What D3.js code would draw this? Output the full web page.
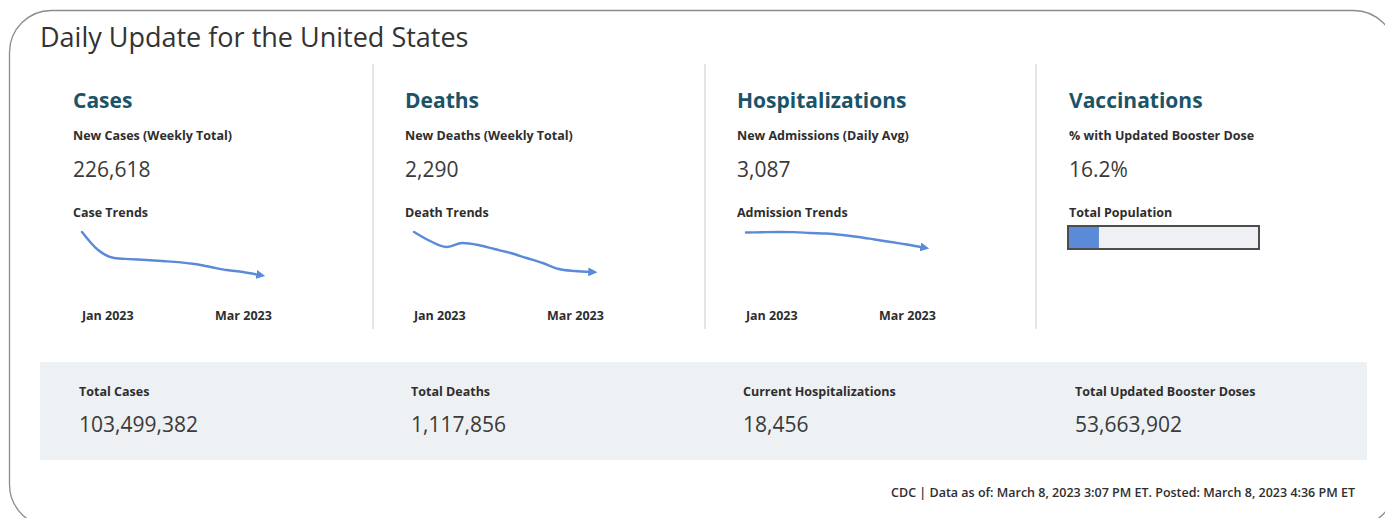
<!DOCTYPE html>
<html>
<head>
<meta charset="utf-8">
<script src="https://cdn.jsdelivr.net/npm/d3@7"></script>
<style>
   body { margin: 0; background: #fff; }
   svg { display: block; font-family: 'Open Sans', sans-serif; }
</style>
</head>
<body>
<div id="chart"></div>
<script>

// PANEL TEXTS
var panelTitles = ['Cases', 'Deaths', 'Hospitalizations', 'Vaccinations'];
var panelLabels = ['New Cases (Weekly Total)', 'New Deaths (Weekly Total)', 'New Admissions (Daily Avg)', '% with Updated Booster Dose'];
var panelValues = ['226,618', '2,290', '3,087', '16.2%'];
var trendLabels = ['Case Trends', 'Death Trends', 'Admission Trends', 'Total Population'];

// TREND SERIES (WEEKLY POINTS)
var weeks = ['2022-12-21', '2022-12-28', '2023-01-04', '2023-01-11', '2023-01-18', '2023-01-25',
             '2023-02-01', '2023-02-08', '2023-02-15', '2023-02-22', '2023-03-01', '2023-03-08'];
var caseTrend = [469000, 367000, 322000, 316000, 311000, 305000, 299000, 288000, 271000, 254000, 243000, 226618];
var deathTrend = [4420, 3941, 3621, 3834, 3728, 3515, 3302, 3035, 2769, 2450, 2343, 2290];
var admissionTrend = [3767, 3780, 3790, 3785, 3744, 3721, 3653, 3562, 3448, 3333, 3219, 3087];
var trendTicks = ['2023-01-01', '2023-03-01'];

// VACCINATION BAR
var boosterPct = 16.2;

// TOTALS STRIP
var totalLabels = ['Total Cases', 'Total Deaths', 'Current Hospitalizations', 'Total Updated Booster Doses'];
var totalValues = [103499382, 1117856, 18456, 53663902];

var footer = 'CDC | Data as of: March 8, 2023 3:07 PM ET. Posted: March 8, 2023 4:36 PM ET';

// SETTINGS
var settings = {
   width: 1385,
   height: 518,
   colStart: 73,
   colStep: 332,
   dividers: [373, 705, 1036],
   small: 12.5,
   teal: '#1b5468',
   text: '#2e2e2e',
   line: '#5b8ad8',
   band: '#eef1f3'
};

var parse = d3.timeParse('%Y-%m-%d');

var svg = d3.select('#chart').append('svg')
   .attr('width', settings.width)
   .attr('height', settings.height);

// ARROW MARKER
svg.append('defs').append('marker')
   .attr('id', 'arrow')
   .attr('markerUnits', 'userSpaceOnUse')
   .attr('viewBox', '0 0 10 10')
   .attr('refX', 3)
   .attr('refY', 5)
   .attr('markerWidth', 9)
   .attr('markerHeight', 9)
   .attr('orient', 'auto')
   .append('path')
      .attr('d', 'M0,0 L10,5 L0,10 z')
      .attr('fill', settings.line);

// OUTER FRAME
svg.append('rect')
   .attr('x', 9.5)
   .attr('y', 10.5)
   .attr('width', 1386)
   .attr('height', 516)
   .attr('rx', 42)
   .attr('fill', 'none')
   .attr('stroke', '#8c8c8c')
   .attr('stroke-width', 1.3);

// TITLE
svg.append('text')
   .attr('x', 40)
   .attr('y', 47)
   .attr('font-size', 27)
   .attr('fill', '#333')
   .text('Daily Update for the United States');

// DIVIDERS
settings.dividers.forEach(x => {
   svg.append('line')
      .attr('x1', x).attr('x2', x)
      .attr('y1', 64).attr('y2', 329)
      .attr('stroke', '#e6e6e6')
      .attr('stroke-width', 2);
});

// PANELS
var trends = [caseTrend, deathTrend, admissionTrend];

panelTitles.forEach((title, i) => {
   var x0 = settings.colStart + i * settings.colStep;
   var g = svg.append('g').attr('transform', 'translate(' + x0 + ',0)');

   g.append('text')
      .attr('y', 108)
      .attr('font-size', 21)
      .attr('font-weight', 700)
      .attr('fill', settings.teal)
      .text(title);

   g.append('text')
      .attr('y', 140)
      .attr('font-size', settings.small)
      .attr('font-weight', 700)
      .attr('fill', settings.text)
      .text(panelLabels[i]);

   g.append('text')
      .attr('y', 177)
      .attr('font-size', 21)
      .attr('fill', '#3a3a3a')
      .text(panelValues[i]);

   g.append('text')
      .attr('y', 217)
      .attr('font-size', settings.small)
      .attr('font-weight', 700)
      .attr('fill', settings.text)
      .text(trendLabels[i]);

   if (i < 3) { sparkline(g, trends[i]); }
   else { boosterBar(g); }
});

// SPARKLINE WITH ARROW
function sparkline(g, values) {

   var dates = weeks.map(parse);

   var xScale = d3.scaleTime()
      .domain(d3.extent(dates))
      .range([9, 186]);

   var yScale = d3.scaleLinear()
      .domain([0, d3.max(values)])
      .range([315, 232]);

   var pathify = d3.line()
      .x((d, i) => { return xScale(dates[i]) })
      .y((d) => { return yScale(d) })
      .curve(d3.curveMonotoneX);

   g.append('path')
      .attr('fill', 'none')
      .attr('stroke', settings.line)
      .attr('stroke-width', 2.4)
      .attr('stroke-linecap', 'round')
      .attr('marker-end', 'url(#arrow)')
      .attr('d', pathify(values));

   var xAxis = d3.axisBottom(xScale)
      .tickValues(trendTicks.map(parse))
      .tickFormat(d3.timeFormat('%b %Y'))
      .tickSize(0)
      .tickPadding(0);

   var ax = g.append('g')
      .attr('transform', 'translate(0,311)')
      .call(xAxis);

   ax.select('.domain').remove();
   ax.selectAll('text')
      .attr('font-family', "'Open Sans', sans-serif")
      .attr('font-size', settings.small)
      .attr('font-weight', 700)
      .attr('fill', settings.text);
}

// BOOSTER PROGRESS BAR
function boosterBar(g) {

   var xScale = d3.scaleLinear()
      .domain([0, 100])
      .range([0, 191]);

   g.append('rect')
      .attr('x', -1).attr('y', 226)
      .attr('width', xScale(100)).attr('height', 23)
      .attr('fill', '#eef0f3');

   g.append('rect')
      .attr('x', -1).attr('y', 226)
      .attr('width', xScale(boosterPct)).attr('height', 23)
      .attr('fill', settings.line);

   g.append('rect')
      .attr('x', -1).attr('y', 226)
      .attr('width', xScale(100)).attr('height', 23)
      .attr('fill', 'none')
      .attr('stroke', '#4d4d4d')
      .attr('stroke-width', 2);
}

// TOTALS STRIP
svg.append('rect')
   .attr('x', 40)
   .attr('y', 362)
   .attr('width', 1327)
   .attr('height', 98)
   .attr('fill', settings.band);

var fmt = d3.format(',');

totalLabels.forEach((label, i) => {
   var x0 = 79 + i * settings.colStep;

   svg.append('text')
      .attr('x', x0)
      .attr('y', 396)
      .attr('font-size', settings.small)
      .attr('font-weight', 700)
      .attr('fill', settings.text)
      .text(label);

   svg.append('text')
      .attr('x', x0)
      .attr('y', 432)
      .attr('font-size', 21)
      .attr('fill', '#3a3a3a')
      .text(fmt(totalValues[i]));
});

// FOOTER
svg.append('text')
   .attr('x', 1355)
   .attr('y', 497)
   .attr('text-anchor', 'end')
   .attr('font-size', settings.small)
   .attr('font-weight', 600)
   .attr('fill', settings.text)
   .text(footer);

</script>
</body>
</html>
